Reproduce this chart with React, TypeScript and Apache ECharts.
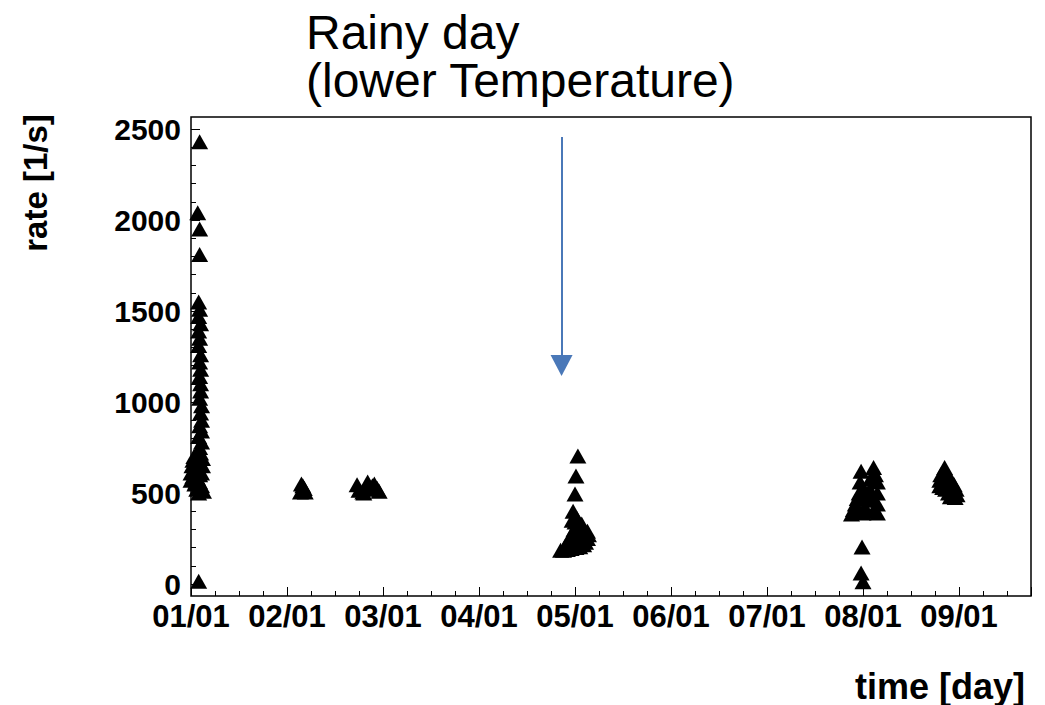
import React, { useEffect, useRef } from 'react';
import * as echarts from 'echarts';

// x: months since 01/01, y: rate [1/s]
const monthLabels = ['01/01', '02/01', '03/01', '04/01', '05/01', '06/01', '07/01', '08/01', '09/01'];

const janPoints: number[][] = [
  [0.09, 2430], [0.07, 2040], [0.09, 1950], [0.09, 1810], [0.08, 1550], [0.09, 1510], [0.08, 1470],
  [0.10, 1430], [0.08, 1390], [0.09, 1350], [0.08, 1310], [0.10, 1260], [0.09, 1220], [0.10, 1180],
  [0.09, 1140], [0.10, 1100], [0.10, 1060], [0.09, 1020], [0.11, 980], [0.10, 940], [0.11, 900],
  [0.09, 870], [0.11, 840], [0.08, 810], [0.11, 780], [0.09, 750], [0.10, 720], [0.06, 700], [0.12, 690],
  [0.0, 610], [0.01, 650], [0.0, 570], [0.02, 680], [0.03, 630], [0.02, 590], [0.04, 550], [0.05, 660],
  [0.05, 600], [0.06, 520], [0.07, 640], [0.08, 500], [0.09, 560], [0.10, 530], [0.11, 610], [0.12, 650],
  [0.13, 510], [0.03, 700], [0.05, 560], [0.09, 600], [0.07, 580], [0.11, 540], [0.08, 15],
];
const febPoints: number[][] = [
  [1.15, 550], [1.165, 540], [1.18, 525], [1.165, 510], [1.14, 505], [1.19, 505],
];
const marPoints: number[][] = [
  [1.73, 545], [1.75, 515], [1.79, 505], [1.82, 530], [1.84, 560], [1.86, 520], [1.89, 540],
  [1.91, 550], [1.94, 525], [1.96, 510], [1.80, 500],
];
const mayPoints: number[][] = [
  [4.03, 703], [4.01, 593], [4.00, 494], [3.98, 400], [3.97, 350], [4.02, 360], [4.07, 330],
  [4.09, 300], [4.13, 290], [4.14, 270], [4.13, 250], [4.11, 230], [4.09, 215], [4.05, 205],
  [4.01, 200], [3.96, 195], [3.92, 190], [3.88, 185], [3.85, 185], [3.95, 260], [3.99, 300],
  [4.02, 250], [3.93, 230], [4.08, 270], [4.05, 320], [4.00, 340], [3.90, 210],
];
const augPoints: number[][] = [
  [6.88, 385], [6.90, 410], [6.92, 440], [6.94, 470], [6.96, 500], [6.98, 620], [6.97, 560],
  [6.99, 520], [7.01, 470], [7.02, 420], [7.00, 390], [6.96, 400], [7.04, 400], [7.06, 460],
  [7.07, 520], [7.08, 580], [7.11, 640], [7.13, 600], [7.15, 560], [7.15, 500], [7.15, 440],
  [7.15, 390], [7.12, 410], [7.09, 480], [6.99, 203], [6.98, 60], [7.00, 12],
];
const sepPoints: number[][] = [
  [7.85, 640], [7.81, 600], [7.80, 570], [7.80, 540], [7.87, 610], [7.89, 590], [7.92, 570],
  [7.95, 545], [7.97, 520], [7.98, 490], [7.96, 475], [7.91, 480], [7.89, 500], [7.86, 520],
  [7.83, 530], [7.90, 540],
];

// annotation arrow (data coords)
const arrowX = 3.86;
const arrowTop = 2456;
const arrowEnd = 1200;

const FONT = 'Liberation Sans, Arial, Helvetica, sans-serif';

export default function App() {
  const ref = useRef<HTMLDivElement>(null);
  useEffect(() => {
    if (!ref.current) return;
    const chart = echarts.init(ref.current, undefined, { renderer: 'svg' });
    const allPoints = [...janPoints, ...febPoints, ...marPoints, ...mayPoints, ...augPoints, ...sepPoints];
    const xMax = 8.75;
    chart.setOption({
      animation: false,
      backgroundColor: '#fff',
      title: {
        text: 'Rainy day\n(lower Temperature)',
        left: 306,
        top: 8,
        padding: 0,
        textStyle: { fontSize: 48, fontWeight: 'normal', fontFamily: FONT, lineHeight: 48, color: '#000' },
      },
      grid: [
        { left: 191, right: 14, top: 129, bottom: 121 },
        { left: 191, right: 14, top: 117, bottom: 109, show: true, borderColor: '#000', borderWidth: 1.5, backgroundColor: 'transparent' },
      ],
      xAxis: [
        { gridIndex: 0, type: 'value', min: 0, max: xMax, show: false },
        {
          gridIndex: 1, type: 'value', min: 0, max: xMax, interval: 1, position: 'bottom',
          axisLine: { show: false },
          axisTick: { show: true, inside: true, length: 9, lineStyle: { color: '#000', width: 1 } },
          splitLine: { show: false },
          axisLabel: {
            show: true, margin: 8, fontSize: 31, lineHeight: 24, fontWeight: 'bold', fontFamily: FONT, color: '#000',
            formatter: (v: number) => (Number.isInteger(v) && v >= 0 && v < monthLabels.length ? monthLabels[v] : ''),
          },
        },
        {
          gridIndex: 1, type: 'value', min: 0, max: xMax, interval: 0.25, position: 'bottom',
          axisLine: { show: false },
          axisTick: { show: true, inside: true, length: 5, lineStyle: { color: '#000', width: 1 } },
          splitLine: { show: false },
          axisLabel: { show: false },
        },
      ],
      yAxis: [
        {
          gridIndex: 0, type: 'value', min: 0, max: 2500, interval: 500,
          axisLine: { show: false },
          axisTick: { show: true, inside: true, length: 9, lineStyle: { color: '#000', width: 1 } },
          minorTick: { show: true, splitNumber: 5, length: 5, lineStyle: { color: '#000', width: 1 } },
          splitLine: { show: false },
          minorSplitLine: { show: false },
          axisLabel: {
            margin: 10, fontSize: 30, lineHeight: 22, fontWeight: 'bold', fontFamily: FONT, color: '#000',
            formatter: (v: number) => String(v),
          },
        },
        { gridIndex: 1, type: 'value', min: 0, max: 1, show: false },
      ],
      graphic: [
        {
          type: 'text', x: 35, y: 183, rotation: Math.PI / 2,
          style: { text: 'rate [1/s]', fontSize: 33, fontWeight: 'bold', fontFamily: FONT, fill: '#000', align: 'center', verticalAlign: 'middle' },
        },
        {
          type: 'text', x: 1025, y: 686,
          style: { text: 'time [day]', fontSize: 36, fontWeight: 'bold', fontFamily: FONT, fill: '#000', align: 'right', verticalAlign: 'middle' },
        },
      ],
      series: [
        {
          type: 'scatter',
          xAxisIndex: 0,
          yAxisIndex: 0,
          data: allPoints,
          symbol: 'triangle',
          symbolSize: [17, 15],
          itemStyle: { color: '#000', opacity: 1 },
          clip: false,
          silent: true,
          markLine: {
            silent: true,
            animation: false,
            symbol: ['none', 'triangle'],
            symbolSize: [22, 21],
            label: { show: false },
            lineStyle: { color: '#4a78b8', width: 2, type: 'solid' },
            data: [[{ coord: [arrowX, arrowTop] }, { coord: [arrowX, arrowEnd] }]],
          },
        },
      ],
    });
    return () => chart.dispose();
  }, []);
  return <div ref={ref} style={{ position: 'fixed', left: 0, top: 0, width: 1045, height: 705 }} />;
}
